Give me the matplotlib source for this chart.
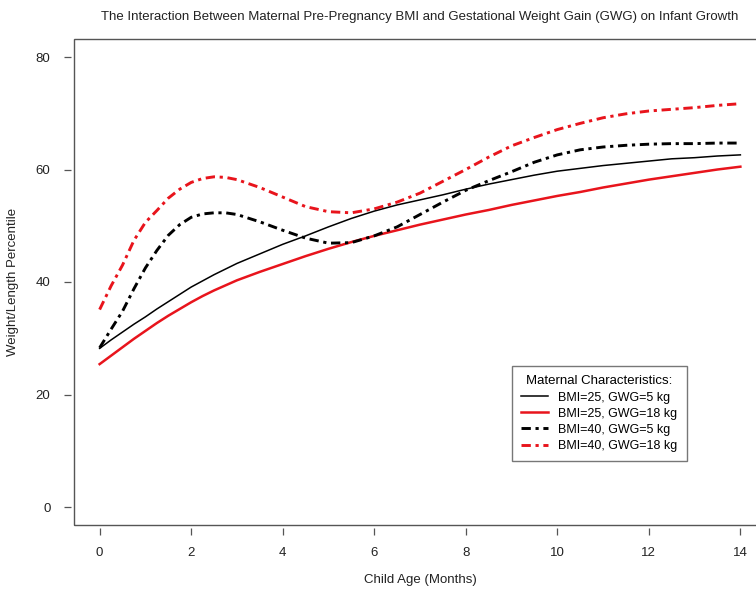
import matplotlib
matplotlib.use("Agg")
import matplotlib.pyplot as plt
from matplotlib.patches import Rectangle

plt.rcParams['font.family'] = ['Liberation Sans', 'DejaVu Sans']

# child age in months
age = [0, 0.25, 0.5, 0.75, 1, 1.25, 1.5, 1.75, 2, 2.25, 2.5, 2.75, 3,
       3.5, 4, 4.5, 5, 5.5, 6, 6.5, 7, 7.5, 8, 8.5, 9, 9.5, 10,
       10.5, 11, 11.5, 12, 12.5, 13, 13.5, 14]

# weight/length percentile
bmi25_gwg5 = [28.2, 29.7, 31.1, 32.5, 33.8, 35.2, 36.5, 37.8, 39.1, 40.2,
              41.3, 42.3, 43.3, 45.0, 46.7, 48.2, 49.8, 51.3, 52.6, 53.7,
              54.6, 55.5, 56.5, 57.4, 58.2, 59.0, 59.7, 60.2, 60.7, 61.1,
              61.5, 61.9, 62.1, 62.4, 62.6]
bmi25_gwg18 = [25.4, 26.9, 28.4, 29.9, 31.3, 32.7, 34.0, 35.2, 36.4, 37.5,
               38.5, 39.4, 40.3, 41.8, 43.2, 44.6, 45.9, 47.1, 48.2, 49.2,
               50.2, 51.1, 52.0, 52.8, 53.7, 54.5, 55.3, 56.0, 56.8, 57.5,
               58.2, 58.8, 59.4, 60.0, 60.5]
bmi40_gwg5 = [28.3, 31.6, 34.8, 38.8, 42.5, 45.6, 48.3, 50.2, 51.5, 52.1,
              52.3, 52.3, 52.0, 50.7, 49.2, 47.8, 46.9, 47.0, 48.2, 49.8,
              52.0, 54.2, 56.3, 58.0, 59.6, 61.3, 62.6, 63.5, 64.0, 64.3,
              64.5, 64.6, 64.6, 64.7, 64.7]
bmi40_gwg18 = [35.1, 39.3, 43.0, 47.4, 50.6, 52.7, 54.9, 56.5, 57.7, 58.4,
               58.7, 58.6, 58.2, 56.8, 55.1, 53.4, 52.5, 52.3, 53.0, 54.2,
               55.8, 57.9, 60.0, 62.2, 64.2, 65.7, 67.1, 68.2, 69.2, 69.9,
               70.4, 70.7, 71.0, 71.4, 71.7]

labels = ["BMI=25, GWG=5 kg", "BMI=25, GWG=18 kg",
          "BMI=40, GWG=5 kg", "BMI=40, GWG=18 kg"]

red = "#e8141c"
dotdash = (0, (3.2, 1.6, 1.1, 1.6))

fig = plt.figure(figsize=(7.56, 5.91), dpi=100)
ax = fig.add_axes([74/756, 1 - 525/591, (766 - 74)/756, (525 - 39)/591])

ax.plot(age, bmi25_gwg5, color="black", lw=1.1, label=labels[0])
ax.plot(age, bmi25_gwg18, color=red, lw=1.8, label=labels[1])
ax.plot(age, bmi40_gwg5, color="black", lw=2.1, ls=dotdash, label=labels[2])
ax.plot(age, bmi40_gwg18, color=red, lw=2.1, ls=dotdash, label=labels[3])

ax.set_xlim(-0.56, 14.56)
ax.set_ylim(-3.2, 83.2)
ax.set_xticks(range(0, 15, 2))
ax.set_yticks(range(0, 81, 20))

# R-style box, with the axes drawn just outside it
for s in ax.spines.values():
    s.set_color("none")
ax.spines["left"].set_position(("outward", 2))
ax.spines["bottom"].set_position(("outward", 2))
ax.add_patch(Rectangle((0, 0), 1, 1, transform=ax.transAxes, fill=False,
                       edgecolor="#555555", lw=1.0, clip_on=False))
ax.tick_params(direction="out", length=5, width=0.9, color="#555555",
               labelsize=9.5, labelcolor="#222222")
ax.tick_params(axis="y", pad=10)
ax.tick_params(axis="x", pad=9)

ax.set_xlabel("Child Age (Months)", fontsize=9.5, color="#222222", labelpad=11)
ax.set_ylabel("Weight/Length Percentile", fontsize=9.5, color="#222222", labelpad=12)
ax.set_title("The Interaction Between Maternal Pre-Pregnancy BMI and Gestational "
             "Weight Gain (GWG) on Infant Growth", fontsize=9.5, color="#222222",
             pad=14)

leg = ax.legend(title="Maternal Characteristics:", loc="upper left",
                bbox_to_anchor=(512/756, 1 - 366/591), bbox_transform=fig.transFigure,
                borderaxespad=0, fontsize=9, title_fontsize=9.5, fancybox=False,
                handlelength=2.1, handletextpad=0.85, labelspacing=0.33,
                borderpad=0.75)
leg.get_frame().set_edgecolor("#555555")
leg.get_frame().set_linewidth(1.0)

fig.savefig("out.png", dpi=100)
